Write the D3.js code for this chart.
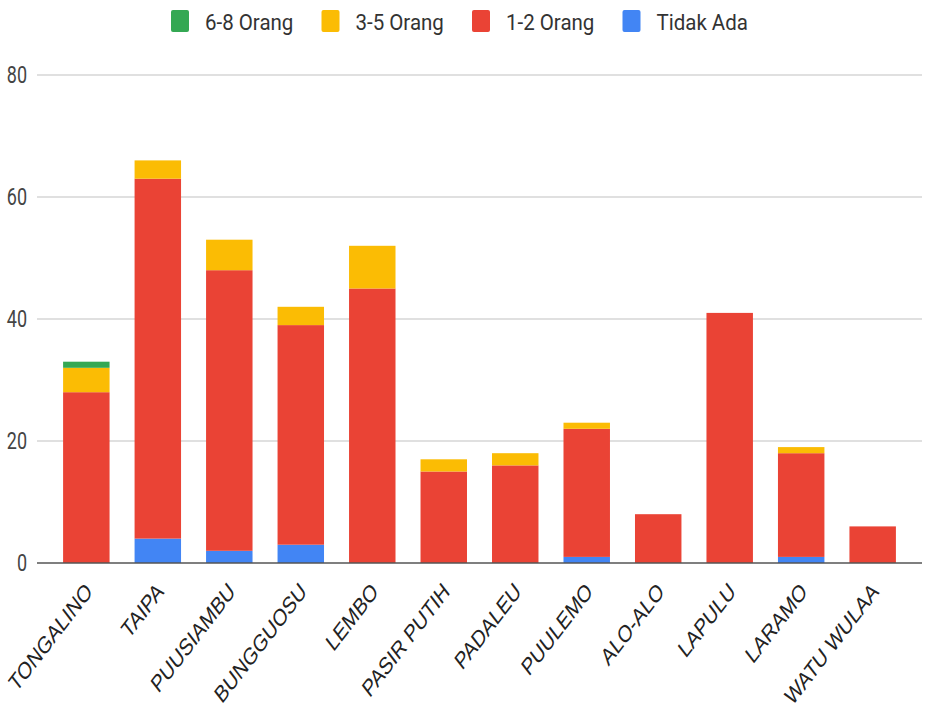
<!DOCTYPE html>
<html>
<head>
<meta charset="utf-8">
<script src="https://cdn.jsdelivr.net/npm/d3@7"></script>
<style>
  html, body { margin: 0; padding: 0; background: #fff; }
  svg { display: block; }
</style>
</head>
<body>
<svg id="chart" width="925" height="711"></svg>
<script>
// Villages on the x axis
const categories = ["TONGALINO", "TAIPA", "PUUSIAMBU", "BUNGGUOSU", "LEMBO", "PASIR PUTIH",
  "PADALEU", "PUULEMO", "ALO-ALO", "LAPULU", "LARAMO", "WATU WULAA"];

// Stacked series, bottom to top
const tidakAda   = [0, 4, 2, 3, 0, 0, 0, 1, 0, 0, 1, 0];
const satuDua    = [28, 59, 46, 36, 45, 15, 16, 21, 8, 41, 17, 6];
const tigaLima   = [4, 3, 5, 3, 7, 2, 2, 1, 0, 0, 1, 0];
const enamDelapan = [1, 0, 0, 0, 0, 0, 0, 0, 0, 0, 0, 0];

const yTicks = [0, 20, 40, 60, 80];

const seriesDefs = [
  { key: "Tidak Ada", values: tidakAda, color: "#4285F4" },
  { key: "1-2 Orang", values: satuDua, color: "#EA4335" },
  { key: "3-5 Orang", values: tigaLima, color: "#FBBC04" },
  { key: "6-8 Orang", values: enamDelapan, color: "#34A853" }
];
// Legend lists the top series first
const legendOrder = ["6-8 Orang", "3-5 Orang", "1-2 Orang", "Tidak Ada"];

const svg = d3.select("#chart");

const rows = categories.map((c, i) => {
  const r = { name: c };
  seriesDefs.forEach(s => r[s.key] = s.values[i]);
  return r;
});
const stacked = d3.stack().keys(seriesDefs.map(s => s.key))(rows);
const colorOf = k => seriesDefs.find(s => s.key === k).color;

const plotLeft = 37, plotRight = 922, plotTop = 75, plotBottom = 563;

const x = d3.scaleBand()
  .domain(categories)
  .range([plotLeft, plotRight])
  .paddingInner(0.35)
  .paddingOuter(0.365);

const y = d3.scaleLinear().domain([0, 80]).range([plotBottom, plotTop]);

// Horizontal gridlines
svg.append("g")
  .selectAll("line")
  .data(yTicks.filter(t => t !== 0))
  .join("line")
  .attr("x1", plotLeft).attr("x2", plotRight)
  .attr("y1", d => y(d)).attr("y2", d => y(d))
  .attr("stroke", "#d6d6d6")
  .attr("stroke-width", 1.3);

// Y tick labels
const yAxis = d3.axisLeft(y).tickValues(yTicks).tickSize(0).tickPadding(0);
const yg = svg.append("g").call(yAxis);
yg.select(".domain").remove();
yg.selectAll(".tick").attr("transform", null);
yg.selectAll("text")
  .attr("x", null).attr("y", null).attr("dy", null)
  .attr("text-anchor", "end")
  .attr("dominant-baseline", "central")
  .attr("font-family", "Roboto, 'Liberation Sans', Arial, sans-serif")
  .attr("font-size", 18)
  .attr("fill", "#444")
  .attr("transform", d => `translate(27,${y(d)}) scale(1,1.3)`);

// Stacked bars
svg.append("g")
  .selectAll("g")
  .data(stacked)
  .join("g")
  .attr("fill", d => colorOf(d.key))
  .selectAll("rect")
  .data(d => d)
  .join("rect")
  .attr("x", d => x(d.data.name))
  .attr("width", x.bandwidth())
  .attr("y", d => y(d[1]))
  .attr("height", d => y(d[0]) - y(d[1]));

// Baseline
svg.append("line")
  .attr("x1", plotLeft).attr("x2", plotRight)
  .attr("y1", y(0)).attr("y2", y(0))
  .attr("stroke", "#555")
  .attr("stroke-width", 1.5);

// Slanted category labels
const xAxis = d3.axisBottom(x).tickSize(0).tickPadding(0);
const xg = svg.append("g").call(xAxis);
xg.select(".domain").remove();
xg.selectAll(".tick").attr("transform", null);
xg.selectAll("text")
  .attr("x", null).attr("y", null).attr("dy", null)
  .attr("text-anchor", "end")
  .attr("font-family", "'Liberation Sans', Arial, sans-serif")
  .attr("font-size", 18.5)
  .attr("fill", "#222")
  .attr("transform", d => `translate(${x(d) + x.bandwidth() / 2 + 7},${y(0) + 30}) scale(1,1.3) rotate(-45)`);

// Legend
const legend = svg.append("g")
  .selectAll("g")
  .data(legendOrder)
  .join("g")
  .attr("transform", (d, i) => `translate(${171 + i * 150.5},0)`);
legend.append("rect")
  .attr("x", 0).attr("y", 10)
  .attr("width", 18).attr("height", 22)
  .attr("rx", 2)
  .attr("fill", d => colorOf(d));
legend.append("text")
  .attr("transform", "translate(34,30) scale(1,1.1)")
  .attr("font-family", "Roboto, 'Liberation Sans', Arial, sans-serif")
  .attr("font-size", 20.5)
  .attr("fill", "#333")
  .text(d => d);
</script>
</body>
</html>
